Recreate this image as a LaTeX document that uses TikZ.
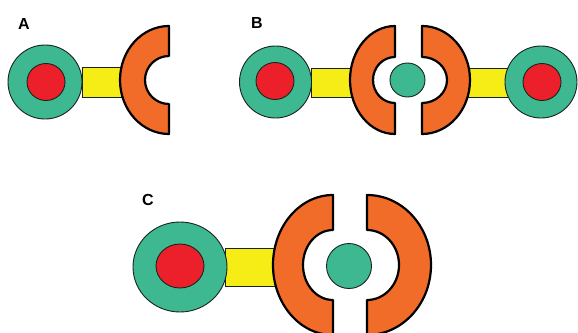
\documentclass[tikz,border=0pt]{standalone}
\usepackage{fontspec}
\setmainfont{Liberation Sans}
\usetikzlibrary{shapes.geometric}
\definecolor{tealc}{RGB}{62,184,145}
\definecolor{redc}{RGB}{236,32,42}
\definecolor{yellowc}{RGB}{246,236,22}
\definecolor{orangec}{RGB}{241,108,40}
\definecolor{edgec}{RGB}{25,35,30}
\tikzset{
  ball/.style={ellipse, draw=edgec, line width=0.9pt, fill=tealc, inner sep=0pt},
  core/.style={ellipse, draw=edgec, line width=0.9pt, fill=redc, inner sep=0pt},
  bar/.style={rectangle, draw=edgec, line width=0.8pt, fill=yellowc, inner sep=0pt},
  cup/.style={draw=black, line width=2.2pt, fill=orangec, line join=round},
  lab/.style={font=\bfseries\fontsize{16}{19}\selectfont, inner sep=0pt}
}
% left-bulging half ring: centre x, centre y, Rx, Ry, rx, ry
\newcommand\leftcup[6]{%
  \draw[cup] (#1,#2-#4) arc[start angle=270, end angle=90, x radius=#3, y radius=#4]
    -- (#1,#2+#6) arc[start angle=90, end angle=270, x radius=#5, y radius=#6] -- cycle;}
\newcommand\rightcup[6]{%
  \draw[cup] (#1,#2-#4) arc[start angle=-90, end angle=90, x radius=#3, y radius=#4]
    -- (#1,#2+#6) arc[start angle=90, end angle=-90, x radius=#5, y radius=#6] -- cycle;}
\begin{document}
\begin{tikzpicture}[x=1pt, y=-1pt]
\useasboundingbox (0,0) rectangle (578,332);

% ---------- A ----------
\node[lab] (labA) at (24,24) {A};
\node[bar, minimum width=40pt, minimum height=30pt] (barA) at (102,82) {};
\node[ball, minimum width=74pt, minimum height=74pt] (ballA) at (45,82) {};
\node[core, minimum width=38pt, minimum height=37pt] (coreA) at (46,82) {};
\leftcup{169}{80}{49}{54}{24}{24}

% ---------- B ----------
\node[lab] (labB) at (257,23) {B};
\node[bar, minimum width=40pt, minimum height=29pt] (barB1) at (331,82.5) {};
\node[bar, minimum width=40pt, minimum height=29pt] (barB2) at (488,82.5) {};
\node[ball, minimum width=72pt, minimum height=72pt] (ballB1) at (275.5,82) {};
\node[core, minimum width=38pt, minimum height=37pt] (coreB1) at (275,81) {};
\node[ball, minimum width=72pt, minimum height=72pt] (ballB2) at (541,82) {};
\node[core, minimum width=38pt, minimum height=37pt] (coreB2) at (542,82) {};
\node[ball, minimum width=35pt, minimum height=34pt] (midB) at (407.5,80) {};
\leftcup{395}{80}{45}{54}{22}{23}
\rightcup{422}{80}{48}{54}{25}{23}

% ---------- C ----------
\node[lab] (labC) at (148,200) {C};
\node[bar, minimum width=50pt, minimum height=38pt] (barC) at (250,267) {};
\node[ball, minimum width=94pt, minimum height=90pt] (ballC) at (180,267) {};
\node[core, minimum width=48pt, minimum height=44pt] (coreC) at (180,266) {};
\node[ball, minimum width=45pt, minimum height=45pt] (midC) at (349,266) {};
\leftcup{333}{265}{60}{70}{30}{35}
\rightcup{367}{265}{64}{70}{32}{35}
\end{tikzpicture}
\end{document}
